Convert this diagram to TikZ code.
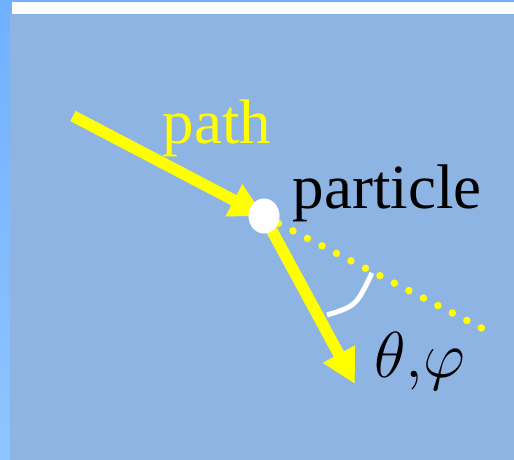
\RequirePackage{fix-cm}
\documentclass[tikz,border=0pt]{standalone}
\usepackage{fontspec}
\setmainfont{Liberation Serif}
\usetikzlibrary{arrows.meta,shapes.geometric}
\definecolor{bgblue}{RGB}{142,180,227}
\definecolor{stripA}{RGB}{112,176,255}
\definecolor{stripB}{RGB}{143,197,255}
\definecolor{ray}{RGB}{255,255,0}
\begin{document}
\begin{tikzpicture}[x=1pt,y=-1pt,
  raystyle/.style={draw=ray, line width=11.5pt, -{Triangle[length=34pt,width=34pt]}},
  dotline/.style={draw=ray, line width=7.5pt, line cap=round, dash pattern=on 0pt off 16.3pt},
  lbl/.style={inner sep=0pt, anchor=base west, font=\fontsize{63}{63}\selectfont}]
\useasboundingbox (0,0) rectangle (514,460);
\shade[top color=stripA,bottom color=stripB] (0,0) rectangle (514,460);
\fill[bgblue] (10,14) rectangle (514,460);
\fill[white] (12,2) rectangle (514,14);
\coordinate (p) at (264,216);
\coordinate (start) at (73,116);
\coordinate (dotend) at (482.5,328.5);
\coordinate (tip) at (355,384);
\coordinate (arcA) at (372,273);
\coordinate (arcB) at (327,315);
\draw[dotline] (p) -- (dotend);
\draw[raystyle] (start) -- (p);
\draw[raystyle] (p) -- (tip);
\node[fill=white, ellipse, minimum width=31pt, minimum height=35pt, inner sep=0pt] (dot) at (p) {};
\draw[white, line width=5pt] (arcA) .. controls (356,306) .. (arcB);
\node[lbl, text=ray] (pathlbl) at (162.5,143) {path};
\node[lbl] (partlbl) at (292.5,208) {particle};
\node[lbl, font=\fontsize{65}{65}\selectfont] (anglbl) at (374,377) {$\theta{,}\varphi$};
\end{tikzpicture}
\end{document}
